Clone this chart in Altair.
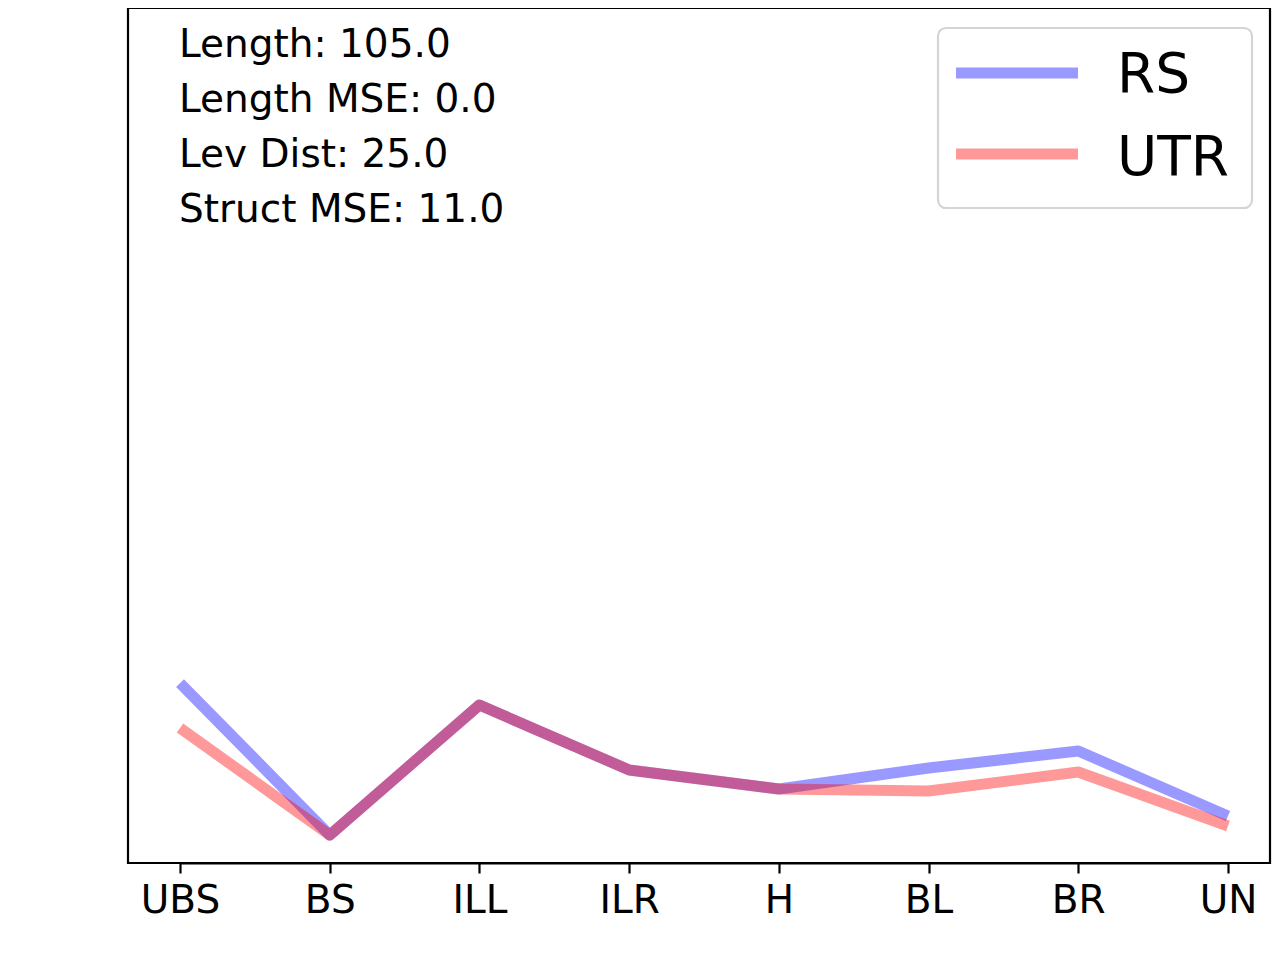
import altair as alt
import pandas as pd

categories = ["UBS", "BS", "ILL", "ILR", "H", "BL", "BR", "UN"]
rs_values = [21.05, 3.27, 18.48, 10.88, 8.65, 11.11, 13.10, 5.50]
utr_values = [15.79, 3.27, 18.48, 10.88, 8.65, 8.42, 10.64, 4.33]
series_names = ["RS", "UTR"]
series_colors = ["blue", "red"]
stats_lines = ["Length: 105.0", "Length MSE: 0.0", "Lev Dist: 25.0", "Struct MSE: 11.0"]

FONT = "DejaVu Sans"

df = pd.DataFrame(
    {
        "cat": categories * 2,
        "value": rs_values + utr_values,
        "series": [series_names[0]] * len(categories) + [series_names[1]] * len(categories),
    }
)

x_enc = alt.X(
    "cat:N",
    sort=categories,
    scale=alt.Scale(type="point", padding=0, range=[52, 1100]),
    axis=alt.Axis(
        title=None,
        labelAngle=0,
        labelFontSize=39,
        labelFont=FONT,
        labelColor="black",
        labelPadding=8,
        tickSize=10,
        tickWidth=2.2,
        tickColor="black",
        domainColor="black",
        domainWidth=2.2,
        grid=False,
    ),
)
y_enc = alt.Y("value:Q", scale=alt.Scale(domain=[0, 100], nice=False, zero=True), axis=None)


def series_line(i):
    return (
        alt.Chart(df)
        .transform_filter(alt.datum.series == series_names[i])
        .transform_calculate(idx=f"indexof({categories}, datum.cat)")
        .mark_line(strokeWidth=11, opacity=0.4, color=series_colors[i], strokeJoin="round")
        .encode(x=x_enc, y=y_enc, order=alt.Order("idx:Q"))
    )


one = pd.DataFrame({"k": [0]})

texts = []
for j, t in enumerate(stats_lines):
    texts.append(
        alt.Chart(one)
        .mark_text(text=t, font=FONT, fontSize=39, align="left", baseline="alphabetic", color="black")
        .encode(x=alt.value(51), y=alt.value(49 + 55 * j))
    )

legend_box = (
    alt.Chart(one)
    .mark_rect(fill="white", fillOpacity=0.8, stroke="#d4d4d4", strokeWidth=2.2, cornerRadius=8)
    .encode(x=alt.value(810), x2=alt.value(1124), y=alt.value(20), y2=alt.value(200))
)

legend_items = []
for i, name in enumerate(series_names):
    yy = 65 + 81 * i
    legend_items.append(
        alt.Chart(one)
        .mark_rule(strokeWidth=11, opacity=0.4, color=series_colors[i])
        .encode(x=alt.value(828), x2=alt.value(950), y=alt.value(yy))
    )
    legend_items.append(
        alt.Chart(one)
        .mark_text(text=name, font=FONT, fontSize=55, align="left", baseline="alphabetic", color="black")
        .encode(x=alt.value(989), y=alt.value(84 + 83 * i))
    )

chart = (
    alt.layer(series_line(0), series_line(1), *texts, legend_box, *legend_items)
    .properties(width=1142, height=855, padding={"left": 120, "top": 0, "right": 2, "bottom": 10})
    .configure(background="white")
    .configure_view(stroke="black", strokeWidth=2.2)
)

chart.save("out.html", embed_options={"renderer": "svg", "actions": False})
